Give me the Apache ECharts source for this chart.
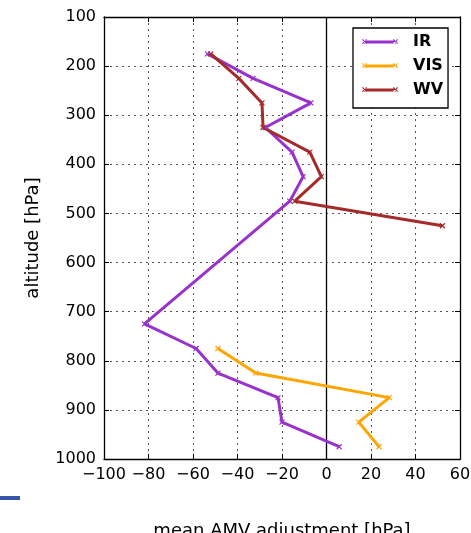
<!DOCTYPE html>
<html><head><meta charset="utf-8">
<script src="https://cdn.jsdelivr.net/npm/echarts@6/dist/echarts.min.js"></script>
<style>html,body{margin:0;padding:0;background:#fff}#c{width:471px;height:533px}</style>
</head><body><div id="c"></div>
<script>
// Data (pressure levels in hPa, mean AMV adjustment in hPa)
const irLevels  = [175, 225, 275, 325, 375, 425, 475, 725, 775, 825, 875, 925, 975];
const irValues  = [-53.5, -33, -7, -27.5, -15.5, -10.5, -16.5, -81.8, -58.6, -48.8, -21.8, -20, 5.7];
const visLevels = [775, 825, 875, 925, 975];
const visValues = [-48.8, -31.8, 28.2, 14.5, 23.6];
const wvLevels  = [175, 225, 275, 325, 375, 425, 475, 525];
const wvValues  = [-52, -39.4, -29, -28.5, -7.5, -2.3, -14.3, 52.1];
const xTicks = [-100, -80, -60, -40, -20, 0, 20, 40, 60];
const yTicks = [100, 200, 300, 400, 500, 600, 700, 800, 900, 1000];

const pair = (vals, lv) => vals.map((v, i) => [v, lv[i]]);
const FONT = 'DejaVu Sans';
const xMark = 'path://M0,0L10,10M10,0L0,10';
// legend icon: line with small x marks at both ends (36 x 6 units)
const legIcon = 'path://M2,1.6L34,1.6L34,4.4L2,4.4Z' +
  'M0,0.8L0.8,0L5,4.2L4.2,5Z M0,4.2L0.8,5L5,0.8L4.2,0Z' +
  'M31,0.8L31.8,0L36,4.2L35.2,5Z M31,4.2L31.8,5L36,0.8L35.2,0Z' +
  'M0,6L0.01,6L0.01,5.99Z';
function ser(name, vals, lv, color, extra) {
  return Object.assign({
    name, type: 'line', data: pair(vals, lv), color,
    lineStyle: { width: 3, color },
    symbol: xMark, symbolSize: 5, showSymbol: true,
    itemStyle: { color, borderColor: color, borderWidth: 1.2 },
    animation: false, z: 3
  }, extra || {});
}
const chart = echarts.init(document.getElementById('c'), null, { renderer: 'canvas' });
const gridLine = { show: true, lineStyle: { color: '#555', width: 1, type: [2, 4] } };
const axisCommon = {
  axisLine: { show: true, onZero: false, lineStyle: { color: '#000', width: 1.3 } },
  axisTick: { show: true, inside: true, length: 5, lineStyle: { color: '#000' } }
};
chart.setOption({
  animation: false,
  grid: { left: 104, top: 17, right: 11, bottom: 74, containLabel: false, outerBoundsMode: 'none' },
  xAxis: [Object.assign({
    type: 'value', min: xTicks[0], max: xTicks[xTicks.length - 1], interval: 20,
    position: 'bottom',
    axisLabel: { color: '#000', fontFamily: FONT, fontSize: 16, margin: 8,
      formatter: v => String(v).replace('-', '\u2212') },
    splitLine: gridLine,
    name: 'mean AMV adjustment [hPa]', nameLocation: 'middle', nameGap: 63,
    nameTextStyle: { color: '#000', fontFamily: FONT, fontSize: 18 }
  }, axisCommon), Object.assign({
    type: 'value', min: xTicks[0], max: xTicks[xTicks.length - 1], interval: 20,
    position: 'top',
    axisLabel: { show: false }, splitLine: { show: false }
  }, axisCommon)],
  yAxis: [Object.assign({
    type: 'value', inverse: true, min: yTicks[0], max: yTicks[yTicks.length - 1], interval: 100,
    position: 'left',
    axisLabel: { color: '#000', fontFamily: FONT, fontSize: 16, margin: 8, formatter: v => String(v) },
    splitLine: gridLine,
    name: 'altitude [hPa]', nameLocation: 'middle', nameGap: 62, nameRotate: 90,
    nameTextStyle: { color: '#000', fontFamily: FONT, fontSize: 18 }
  }, axisCommon), Object.assign({
    type: 'value', inverse: true, min: yTicks[0], max: yTicks[yTicks.length - 1], interval: 100,
    position: 'right',
    axisLabel: { show: false }, splitLine: { show: false }
  }, axisCommon)],
  legend: {
    left: 353, top: 28, orient: 'vertical',
    backgroundColor: '#fff', borderColor: '#000', borderWidth: 1.3, borderRadius: 0,
    padding: [6, 5, 10, 9], itemGap: 8, itemWidth: 36, itemHeight: 6,
    icon: legIcon,
    itemStyle: { borderWidth: 0 },
    textStyle: { color: '#000', fontFamily: FONT, fontSize: 16, fontWeight: 'bold', padding: [0, 0, 0, 10] },
    data: ['IR', 'VIS', 'WV']
  },
  series: [
    ser('IR', irValues, irLevels, '#9932CC', {
      markLine: { silent: true, symbol: 'none', label: { show: false },
        lineStyle: { color: '#000', width: 1.3, type: 'solid' }, data: [{ xAxis: 0 }], z: 2 }
    }),
    ser('VIS', visValues, visLevels, '#FFA500'),
    ser('WV', wvValues, wvLevels, '#A52A2A')
  ],
  graphic: [{ type: 'rect', left: 0, top: 496, shape: { width: 20, height: 4 }, style: { fill: '#3656a8' } }]
});
</script></body></html>
